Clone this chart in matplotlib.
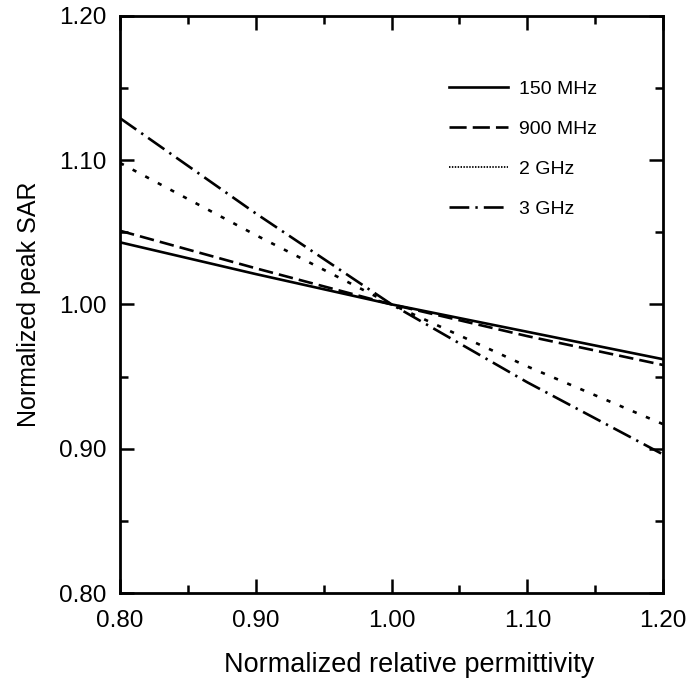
import matplotlib
matplotlib.use("Agg")
import matplotlib.pyplot as plt
from matplotlib.ticker import MultipleLocator, FormatStrFormatter
from matplotlib.lines import Line2D

plt.rcParams['font.family'] = ['Liberation Sans', 'DejaVu Sans']

x = [0.80, 0.90, 1.00, 1.10, 1.20]
sar_150mhz = [1.043, 1.021, 1.000, 0.981, 0.962]
sar_900mhz = [1.051, 1.025, 1.000, 0.978, 0.958]
sar_2ghz = [1.098, 1.048, 1.000, 0.957, 0.917]
sar_3ghz = [1.129, 1.063, 1.000, 0.946, 0.896]
labels = ['150 MHz', '900 MHz', '2 GHz', '3 GHz']

fig = plt.figure(figsize=(6.9, 6.84), dpi=100)
ax = fig.add_axes([0.174, 0.133, 0.787, 0.844])

lw = 1.9
ls_solid = '-'
ls_dash = (0, (5.5, 2.3))
ls_dot = (0, (1.6, 3.8))
ls_dashdot = (0, (7.5, 2.3, 0.9, 2.3))
ax.plot(x, sar_150mhz, color='black', lw=lw, linestyle=ls_solid)
ax.plot(x, sar_900mhz, color='black', lw=lw, linestyle=ls_dash)
ax.plot(x, sar_2ghz, color='black', lw=lw, linestyle=ls_dot)
ax.plot(x, sar_3ghz, color='black', lw=lw, linestyle=ls_dashdot)

handles = [
    Line2D([], [], color='black', lw=lw, linestyle=ls_solid),
    Line2D([], [], color='black', lw=lw, linestyle=(0, (6.5, 2.3))),
    Line2D([], [], color='black', lw=1.3, linestyle=(0, (0.8, 0.8))),
    Line2D([], [], color='black', lw=lw, linestyle=(0, (7.5, 2.3, 0.9, 2.3))),
]

ax.set_xlim(0.80, 1.20)
ax.set_ylim(0.80, 1.20)
ax.xaxis.set_major_locator(MultipleLocator(0.1))
ax.xaxis.set_minor_locator(MultipleLocator(0.05))
ax.yaxis.set_major_locator(MultipleLocator(0.1))
ax.yaxis.set_minor_locator(MultipleLocator(0.05))
ax.xaxis.set_major_formatter(FormatStrFormatter('%.2f'))
ax.yaxis.set_major_formatter(FormatStrFormatter('%.2f'))
ax.tick_params(which='both', direction='in', top=True, right=True, width=1.8, labelsize=17.5)
ax.tick_params(which='major', length=10)
ax.tick_params(which='minor', length=6)
ax.tick_params(axis='x', which='major', pad=12.5)
ax.tick_params(axis='y', which='major', pad=10)
for s in ax.spines.values():
    s.set_linewidth(2)

ax.set_xlabel('Normalized relative permittivity', fontsize=19.5, labelpad=14)
ax.xaxis.label.set_x(0.532)
ax.set_ylabel('Normalized peak SAR', fontsize=18, labelpad=12.5)

leg = ax.legend(handles, labels, loc='upper left', frameon=False, fontsize=14,
                handlelength=3.0, handletextpad=0.6, labelspacing=1.15,
                bbox_to_anchor=(0.592, 0.902), borderaxespad=0)

fig.savefig('out.png', dpi=100)
